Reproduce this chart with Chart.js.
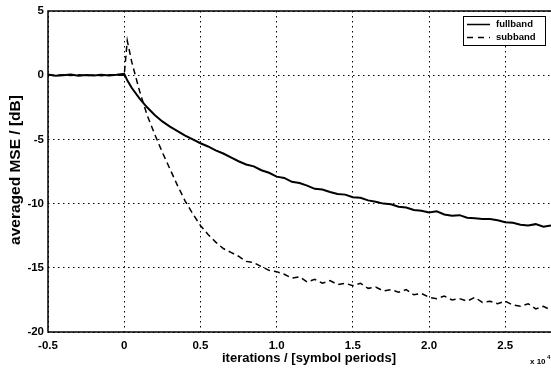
<!DOCTYPE html>
<html>
<head>
<meta charset="utf-8">
<style>
  html, body { margin: 0; padding: 0; background: #fff; }
  #wrap { width: 551px; height: 368px; }
</style>
<script src="https://cdn.jsdelivr.net/npm/chart.js@4/dist/chart.umd.min.js"></script>
</head>
<body>
<div id="wrap"><canvas id="mseChart" width="551" height="368"></canvas></div>
<script>
// iterations, in units of 10^4 symbol periods
const iterations = [
  -0.5, -0.45, -0.4, -0.35, -0.3, -0.25, -0.2, -0.15, -0.1, -0.05,
  0, 0.02, 0.05, 0.1, 0.15, 0.2, 0.25, 0.3, 0.35, 0.4, 0.45,
  0.5, 0.55, 0.6, 0.65, 0.7, 0.75, 0.8, 0.85, 0.9, 0.95,
  1.0, 1.05, 1.1, 1.15, 1.2, 1.25, 1.3, 1.35, 1.4, 1.45,
  1.5, 1.55, 1.6, 1.65, 1.7, 1.75, 1.8, 1.85, 1.9, 1.95,
  2.0, 2.05, 2.1, 2.15, 2.2, 2.25, 2.3, 2.35, 2.4, 2.45,
  2.5, 2.55, 2.6, 2.65, 2.7, 2.75, 2.8
];

// averaged MSE in dB
const fullband = [
  0.05, -0.05, 0.0, 0.05, -0.05, 0.02, -0.03, 0.04, -0.02, 0.03,
  0.1, -0.4, -1.0, -1.8, -2.5, -3.1, -3.6, -4.0, -4.35, -4.7, -5.0,
  -5.3, -5.55, -5.85, -6.1, -6.4, -6.7, -6.95, -7.1, -7.4, -7.6,
  -7.9, -8.0, -8.3, -8.4, -8.6, -8.85, -8.9, -9.1, -9.25, -9.3,
  -9.5, -9.55, -9.75, -9.85, -10.0, -10.05, -10.25, -10.3, -10.5, -10.55,
  -10.7, -10.6, -10.85, -10.95, -10.9, -11.1, -11.15, -11.2, -11.2, -11.3,
  -11.45, -11.5, -11.65, -11.7, -11.6, -11.8, -11.7
];

const subband = [
  0.02, -0.03, 0.03, -0.02, 0.04, -0.03, 0.02, -0.04, 0.03, 0.0,
  0.0, 2.7, 1.0, -1.2, -3.1, -4.6, -6.0, -7.3, -8.6, -9.8, -10.8,
  -11.7, -12.4, -13.0, -13.5, -13.8, -14.1, -14.5, -14.6, -14.9, -15.2,
  -15.3, -15.5, -15.8, -15.7, -16.1, -15.9, -16.2, -16.0, -16.3, -16.2,
  -16.4, -16.2, -16.6, -16.5, -16.8, -16.7, -16.9, -16.7, -17.1, -17.0,
  -17.3, -17.4, -17.2, -17.5, -17.4, -17.6, -17.3, -17.7, -17.6, -17.8,
  -17.6, -17.9, -18.0, -17.8, -18.2, -18.0, -18.3
];

const xTicks = [-0.5, 0, 0.5, 1, 1.5, 2, 2.5];
const yTicks = [-20, -15, -10, -5, 0, 5];

const seriesLabels = ['fullband', 'subband'];

const fontFamily = '"Liberation Sans", Arial, Helvetica, sans-serif';

const toPoints = (xs, ys) => xs.map((x, i) => ({ x: x, y: ys[i] }));

// frame, axis titles, exponent and legend box
const decorPlugin = {
  id: 'decor',
  afterDraw(chart) {
    const { ctx, chartArea } = chart;
    const { left, right, top, bottom } = chartArea;
    ctx.save();
    ctx.strokeStyle = '#000';
    ctx.lineWidth = 1.5;
    ctx.setLineDash([]);
    ctx.beginPath();
    ctx.moveTo(right, top);
    ctx.lineTo(left, top);
    ctx.lineTo(left, bottom);
    ctx.lineTo(right, bottom);
    ctx.stroke();

    ctx.fillStyle = '#000';
    ctx.textAlign = 'center';
    ctx.textBaseline = 'middle';
    ctx.font = 'bold 13px ' + fontFamily;
    ctx.fillText('iterations / [symbol periods]', 309, 358);

    ctx.save();
    ctx.translate(16, 170);
    ctx.rotate(-Math.PI / 2);
    ctx.font = 'bold 15.5px ' + fontFamily;
    ctx.fillText('averaged MSE / [dB]', 0, 0);
    ctx.restore();

    ctx.textAlign = 'left';
    ctx.font = 'bold 8px ' + fontFamily;
    ctx.fillText('x 10', 530, 362);
    ctx.font = 'bold 6px ' + fontFamily;
    ctx.fillText('4', 547, 357);

    // legend
    const bx = 463, by = 16, bw = 82, bh = 29;
    ctx.fillStyle = '#fff';
    ctx.fillRect(bx, by, bw, bh);
    ctx.strokeStyle = '#000';
    ctx.lineWidth = 1;
    ctx.strokeRect(bx + 0.5, by + 0.5, bw, bh);

    ctx.lineWidth = 1.5;
    ctx.beginPath();
    ctx.moveTo(467, 24.5);
    ctx.lineTo(490, 24.5);
    ctx.stroke();
    ctx.setLineDash([6, 5]);
    ctx.beginPath();
    ctx.moveTo(467, 37.5);
    ctx.lineTo(490, 37.5);
    ctx.stroke();
    ctx.setLineDash([]);

    ctx.fillStyle = '#000';
    ctx.font = 'bold 9.5px ' + fontFamily;
    ctx.textAlign = 'left';
    ctx.fillText(seriesLabels[0], 496, 24);
    ctx.fillText(seriesLabels[1], 496, 37);
    ctx.restore();
  }
};

const mseData = {
  datasets: [{
    label: seriesLabels[0],
    data: toPoints(iterations, fullband),
    borderColor: '#000',
    borderWidth: 2,
    pointRadius: 0,
    tension: 0
  }, {
    label: seriesLabels[1],
    data: toPoints(iterations, subband),
    borderColor: '#000',
    borderWidth: 1.5,
    borderDash: [6, 4],
    pointRadius: 0,
    tension: 0
  }]
};

const mseConfig = {
  type: 'line',
  data: mseData,
  options: {
    responsive: false,
    animation: false,
    devicePixelRatio: 1,
    layout: { padding: { top: 11, right: 0, left: 0, bottom: 0 } },
    plugins: {
      legend: { display: false },
      tooltip: { enabled: false }
    },
    scales: {
      x: {
        type: 'linear',
        min: -0.5,
        max: 2.8,
        afterBuildTicks: (scale) => {
          scale.ticks = xTicks.map(v => ({ value: v }));
        },
        afterFit: (scale) => { scale.height = 36; },
        grid: { color: '#000', lineWidth: 1, drawTicks: false },
        border: { display: false, dash: [1.5, 3.5] },
        ticks: {
          color: '#000',
          padding: 7,
          maxRotation: 0,
          font: { family: fontFamily, size: 11.5, weight: 'bold' }
        }
      },
      y: {
        type: 'linear',
        min: -20,
        max: 5,
        afterBuildTicks: (scale) => {
          scale.ticks = yTicks.map(v => ({ value: v }));
        },
        afterFit: (scale) => { scale.width = 48; },
        grid: { color: '#000', lineWidth: 1, drawTicks: false },
        border: { display: false, dash: [1.5, 3.5] },
        ticks: {
          color: '#000',
          padding: 4,
          font: { family: fontFamily, size: 11.5, weight: 'bold' }
        }
      }
    }
  },
  plugins: [decorPlugin]
};

document.addEventListener('DOMContentLoaded', () => {
  const mseChart = new Chart(
    document.getElementById('mseChart'),
    mseConfig
  );
});
</script>
</body>
</html>
